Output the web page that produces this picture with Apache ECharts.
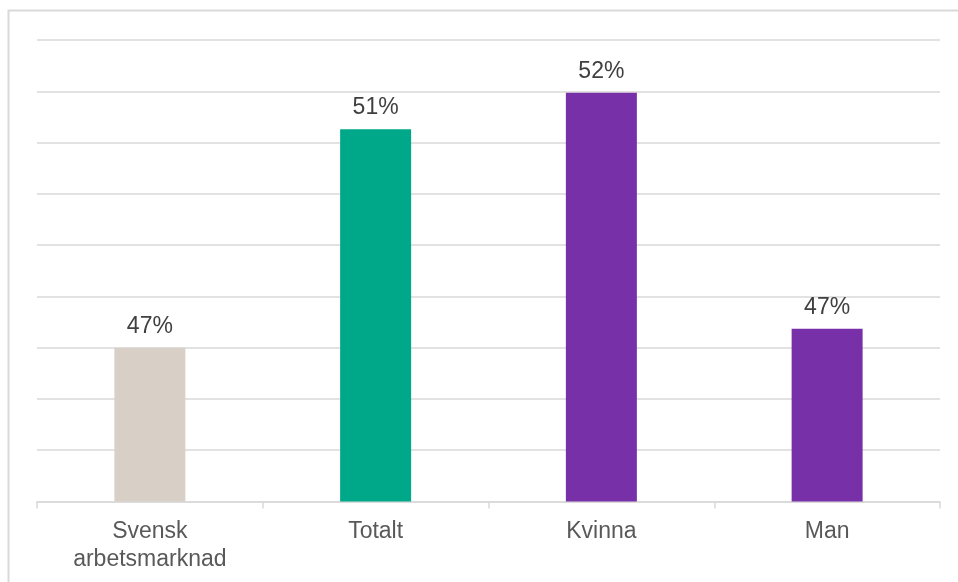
<!DOCTYPE html>
<html>
<head>
<meta charset="utf-8">
<script src="https://cdn.jsdelivr.net/npm/echarts@6/dist/echarts.min.js"></script>
<style>
  html, body { margin: 0; padding: 0; background: #fff; }
  #chart { width: 958px; height: 582px; }
</style>
</head>
<body>
<div id="chart"></div>
<script>
// Andel per grupp (bråkdel), visas avrundat i procent
const categories = ['Svensk\narbetsmarknad', 'Totalt', 'Kvinna', 'Man'];
const values = [0.470, 0.5126, 0.5197, 0.4737];
const barColors = ['#D8CFC6', '#00A88A', '#7830A8', '#7830A8'];

const chart = echarts.init(document.getElementById('chart'), null, { renderer: 'canvas' });

chart.setOption({
  animation: false,
  backgroundColor: '#ffffff',
  graphic: [{
    type: 'rect',
    shape: { x: 8.5, y: 10.5, width: 1000, height: 700 },
    style: { fill: 'none', stroke: '#D9D9D9', lineWidth: 2 },
    silent: true,
    z: -10
  }],
  grid: { left: 37, right: 18, top: 40, bottom: 80.5, containLabel: false },
  xAxis: {
    type: 'category',
    data: categories,
    axisLine: { lineStyle: { color: '#D9D9D9', width: 1.5 } },
    axisTick: { show: true, length: 7, lineStyle: { color: '#D9D9D9', width: 1.5 } },
    axisLabel: {
      color: '#595959',
      fontFamily: 'Liberation Sans, Arial, sans-serif',
      fontSize: 23,
      lineHeight: 28,
      margin: 16
    }
  },
  yAxis: {
    type: 'value',
    min: 0.44,
    max: 0.53,
    interval: 0.01,
    axisLine: { show: false },
    axisTick: { show: false },
    axisLabel: { show: false },
    splitLine: { lineStyle: { color: '#D9D9D9', width: 1.5 } }
  },
  series: [{
    type: 'bar',
    barWidth: 71,
    data: values.map((v, i) => ({ value: v, itemStyle: { color: barColors[i] } })),
    label: {
      show: true,
      position: 'top',
      distance: 10,
      color: '#404040',
      fontFamily: 'Liberation Sans, Arial, sans-serif',
      fontSize: 23,
      formatter: p => Math.round(p.value * 100) + '%'
    }
  }]
});
</script>
</body>
</html>
